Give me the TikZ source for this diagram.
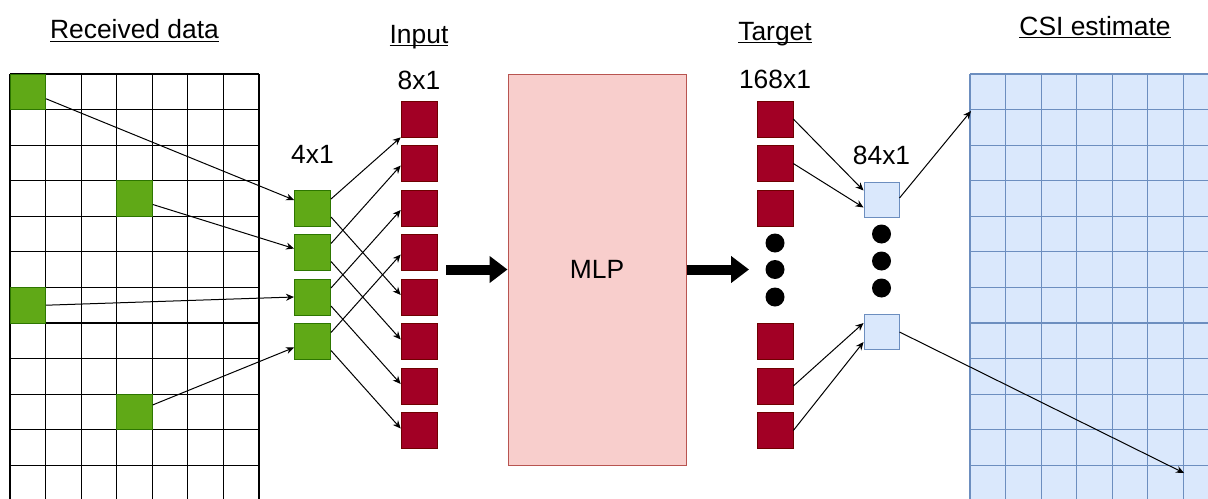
\documentclass[tikz,border=0pt]{standalone}
\usepackage{fontspec}
\setmainfont{Liberation Sans}
\usetikzlibrary{arrows.meta}

\definecolor{cellgreen}{HTML}{60A917}
\definecolor{greenedge}{HTML}{2D7600}
\definecolor{cellred}{HTML}{A20025}
\definecolor{rededge}{HTML}{6F0000}
\definecolor{mlpfill}{HTML}{F8CECC}
\definecolor{mlpedge}{HTML}{B85450}
\definecolor{cellblue}{HTML}{DAE8FC}
\definecolor{blueedge}{HTML}{6C8EBF}

\newcommand{\undertext}[1]{\underline{\smash{#1}}}

\tikzset{
  gridline/.style={line width=0.6pt, black},
  csiline/.style={line width=0.6pt, blueedge},
  pilot/.style={draw=greenedge, fill=cellgreen, line width=0.5pt, minimum size=17.8pt, inner sep=0pt},
  greenbox/.style={draw=greenedge, fill=cellgreen, line width=0.5pt, minimum size=18pt, inner sep=0pt},
  inbox/.style={draw=rededge, fill=cellred, line width=0.3pt, minimum size=18pt, inner sep=0pt},
  outbox/.style={draw=blueedge, fill=cellblue, line width=0.5pt, minimum size=17.5pt, inner sep=0pt},
  mlpbox/.style={draw=mlpedge, fill=mlpfill, line width=0.5pt, inner sep=0pt},
  dot/.style={circle, fill=black, minimum size=9.5pt, inner sep=0pt},
  conn/.style={-{Stealth[length=4pt,width=3.5pt]}, line width=0.5pt},
  bigarrow/.style={-{Triangle[length=9pt,width=13pt]}, line width=5pt}
}

\begin{document}
\begin{tikzpicture}[x=0.5pt, y=-0.5pt, font=\fontsize{13.2}{15.5}\selectfont]
  \useasboundingbox (0,0) rectangle (1208,498);

  % Grids (cut at the page edge)
  \begin{scope}
    \clip (0,0) rectangle (1208,498);
    \fill[cellblue] (970,74) rectangle (1219,510);
    \foreach \i in {0,...,7} {
      \draw[gridline] ({10+\i*35.57},74) -- ({10+\i*35.57},510);
      \draw[csiline] ({970+\i*35.57},74) -- ({970+\i*35.57},510);
    }
    \foreach \j in {0,...,12} {
      \draw[gridline] (10,{74+\j*35.57}) -- (259,{74+\j*35.57});
      \draw[csiline] (970,{74+\j*35.57}) -- (1219,{74+\j*35.57});
    }
  \end{scope}

  % Pilot cells of the received grid
  \node[pilot] (rd1) at (27.8,91.8) {};
  \node[pilot] (rd2) at (134.5,198.5) {};
  \node[pilot] (rd3) at (27.8,305.2) {};
  \node[pilot] (rd4) at (134.5,411.9) {};

  % Titles
  \node[anchor=base] (recvlabel) at (134.5,39) {\undertext{Received data}};
  \node[anchor=base] (inlabel) at (419,43) {\undertext{Input}};
  \node[anchor=base] (tgtlabel) at (775,40) {\undertext{Target}};
  \node[anchor=base] (csilabel) at (1095,35) {\undertext{CSI estimate}};

  % Sizes
  \node[anchor=base] (gsize) at (312.5,163) {4x1};
  \node[anchor=base] (insize) at (419,89) {8x1};
  \node[anchor=base] (tsize) at (775,88) {168x1};
  \node[anchor=base] (bsize) at (881.5,164) {84x1};

  % Columns of cells
  \foreach \i in {1,...,4}
    \node[greenbox] (g\i) at (312.5,{208+(\i-1)*44.5}) {};
  \foreach \i in {1,...,8}
    \node[inbox] (in\i) at (419,{119+(\i-1)*44.5}) {};
  \foreach \i/\y in {1/119,2/163.5,3/208,4/341.5,5/386,6/430.5}
    \node[inbox] (t\i) at (775,\y) {};
  \foreach \i/\y in {1/243,2/269.5,3/297}
    \node[dot] (tdot\i) at (775,\y) {};
  \foreach \i/\y in {1/234,2/261,3/288}
    \node[dot] (bdot\i) at (881.5,\y) {};
  \node[outbox] (b1) at (881.5,199.5) {};
  \node[outbox] (b2) at (881.5,332) {};

  % MLP block
  \node[mlpbox, minimum width=89pt, minimum height=195.5pt] (mlp) at (597,269.5) {MLP};

  % Pilots to 4x1
  \draw[conn] ([yshift=-3.5pt]rd1.east) -- ([yshift=4pt]g1.west);
  \draw[conn] ([yshift=-3pt]rd2.east) -- ([yshift=2pt]g2.west);
  \draw[conn] (rd3.east) -- (g3.west);
  \draw[conn] ([yshift=3.5pt]rd4.east) -- ([yshift=-3pt]g4.west);

  % 4x1 to 8x1
  \draw[conn] ([yshift=4.5pt]g1.east) -- (in1.south west);
  \foreach \i in {2,3,4}
    \draw[conn] ([yshift=4.5pt]g\i.east) -- ([yshift=-1pt]in\i.west);
  \foreach \i in {1,...,4} {
    \pgfmathtruncatemacro{\k}{\i+4}
    \draw[conn] ([yshift=-4.5pt]g\i.east) -- ([yshift=1pt]in\k.west);
  }

  % Into and out of the MLP
  \coordinate (inarrow) at (446,269.5);
  \coordinate (outarrow) at (749,269.5);
  \draw[bigarrow] (inarrow) -- (mlp.west);
  \draw[bigarrow] (mlp.east) -- (outarrow);

  % 168x1 to 84x1
  \draw[conn] (t1.east) -- ([yshift=4.5pt]b1.west);
  \draw[conn] (t2.east) -- ([yshift=-4pt]b1.west);
  \draw[conn] (t5.east) -- ([yshift=4.5pt]b2.west);
  \draw[conn] (t6.east) -- ([yshift=-5pt]b2.west);

  % 84x1 to CSI grid
  \coordinate (csi1) at (971,111);
  \coordinate (csi2) at (1184,473);
  \draw[conn] ([yshift=0.75pt]b1.east) -- (csi1);
  \draw[conn] (b2.east) -- (csi2);
\end{tikzpicture}
\end{document}
